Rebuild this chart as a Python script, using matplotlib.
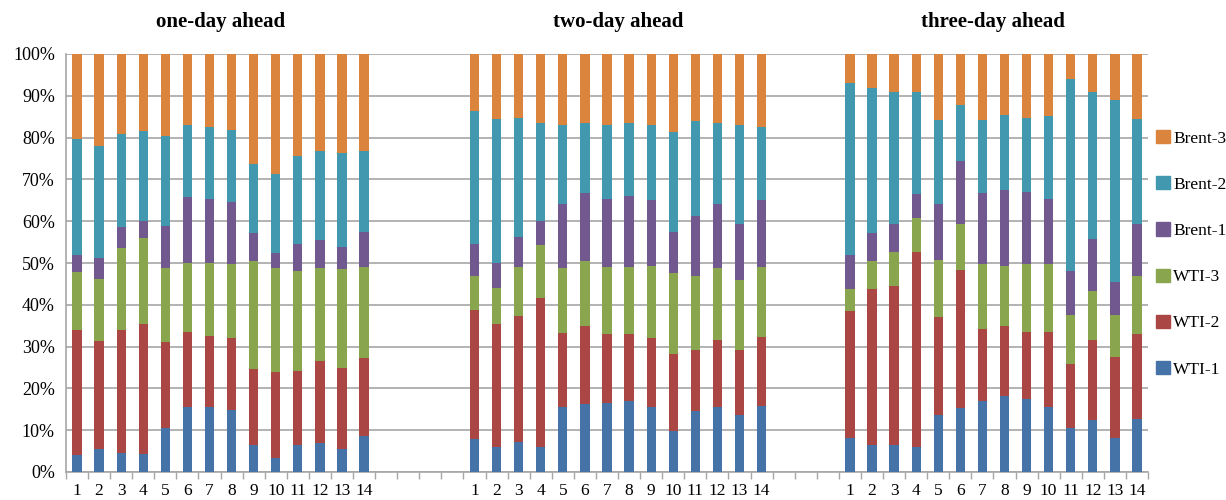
import numpy as np
import matplotlib
matplotlib.use("Agg")
import matplotlib.pyplot as plt
from matplotlib.patches import Patch

plt.rcParams['font.family'] = ['Liberation Serif', 'DejaVu Serif']

horizons = ["one-day ahead", "two-day ahead", "three-day ahead"]
models = [str(i) for i in range(1, 15)]
series_names = ["WTI-1", "WTI-2", "WTI-3", "Brent-1", "Brent-2", "Brent-3"]
colors = ["#4572A7", "#AA4643", "#89A54E", "#71588F", "#4198AF", "#DB843D"]

# shares (%) per horizon
one_wti1 = [4.0, 5.4, 4.6, 4.4, 10.5, 15.6, 15.6, 14.9, 6.5, 3.4, 6.5, 6.9, 5.6, 8.5]
one_wti2 = [29.9, 25.9, 29.3, 31.1, 20.5, 17.9, 17.0, 17.1, 18.1, 20.6, 17.7, 19.7, 19.3, 18.7]
one_wti3 = [13.9, 14.9, 19.7, 20.4, 17.7, 16.6, 17.5, 17.8, 25.9, 24.7, 24.0, 22.1, 23.6, 21.9]
one_brent1 = [4.1, 5.1, 4.9, 4.2, 10.2, 15.8, 15.3, 14.7, 6.6, 3.6, 6.4, 6.9, 5.4, 8.3]
one_brent2 = [27.8, 26.8, 22.4, 21.5, 21.4, 17.2, 17.2, 17.4, 16.7, 19.0, 21.1, 21.2, 22.5, 19.4]
one_brent3 = [20.3, 21.9, 19.1, 18.4, 19.7, 16.9, 17.4, 18.1, 26.2, 28.7, 24.3, 23.2, 23.6, 23.2]

two_wti1 = [7.8, 5.9, 7.2, 5.9, 15.6, 16.3, 16.5, 16.9, 15.6, 9.8, 14.6, 15.6, 13.7, 15.9]
two_wti2 = [31.0, 29.6, 30.2, 35.8, 17.7, 18.7, 16.5, 16.1, 16.4, 18.4, 14.5, 16.0, 15.4, 16.4]
two_wti3 = [8.0, 8.4, 11.7, 12.5, 15.4, 15.4, 16.1, 16.1, 17.4, 19.3, 17.7, 17.1, 16.8, 16.8]
two_brent1 = [7.8, 6.2, 7.1, 5.9, 15.5, 16.4, 16.3, 17.0, 15.7, 9.9, 14.5, 15.5, 13.5, 16.0]
two_brent2 = [31.8, 34.4, 28.6, 23.4, 18.7, 16.7, 17.7, 17.4, 17.8, 23.9, 22.6, 19.3, 23.5, 17.5]
two_brent3 = [13.6, 15.5, 15.2, 16.5, 17.1, 16.5, 16.9, 16.5, 17.1, 18.7, 16.1, 16.5, 17.1, 17.4]

three_wti1 = [8.2, 6.5, 6.5, 5.9, 13.7, 15.3, 16.9, 18.2, 17.5, 15.6, 10.5, 12.4, 8.2, 12.7]
three_wti2 = [30.3, 37.3, 38.1, 46.7, 23.4, 33.1, 17.4, 16.8, 16.0, 17.9, 15.4, 19.2, 19.3, 20.3]
three_wti3 = [5.2, 6.6, 8.0, 8.1, 13.6, 11.0, 15.5, 14.4, 16.3, 16.3, 11.6, 11.7, 10.0, 13.8]
three_brent1 = [8.2, 6.7, 6.8, 5.8, 13.5, 15.1, 17.0, 18.0, 17.3, 15.6, 10.7, 12.5, 8.0, 12.6]
three_brent2 = [41.2, 34.8, 31.6, 24.5, 20.0, 13.2, 17.4, 18.1, 17.7, 19.7, 45.7, 35.2, 43.6, 25.1]
three_brent3 = [6.9, 8.1, 9.0, 9.0, 15.8, 12.3, 15.8, 14.5, 15.2, 14.9, 6.1, 9.0, 10.9, 15.5]

groups = [
    [one_wti1, one_wti2, one_wti3, one_brent1, one_brent2, one_brent3],
    [two_wti1, two_wti2, two_wti3, two_brent1, two_brent2, two_brent3],
    [three_wti1, three_wti2, three_wti3, three_brent1, three_brent2, three_brent3],
]
gaps_after = [4, 3]  # empty categories between groups

fig = plt.figure(figsize=(12.26, 5.0), dpi=100)
ax = fig.add_axes([66 / 1226, 1 - 472 / 500, (1148 - 66) / 1226, (472 - 54) / 500])

positions = []
start = 0
for gi in range(3):
    positions.append(np.arange(start, start + 14))
    if gi < 2:
        start = start + 14 + gaps_after[gi]
total = positions[-1][-1] + 1

width = 0.42
for gi, (pos, data) in enumerate(zip(positions, groups)):
    bottom = np.zeros(14)
    for si, vals in enumerate(data):
        v = np.array(vals, dtype=float) / 100.0
        ax.bar(pos, v, width, bottom=bottom, color=colors[si], linewidth=0,
               zorder=3, label=series_names[si] if gi == 0 else None)
        bottom += v

ax.set_xlim(-0.5, total - 0.5)
ax.set_ylim(0, 1)
yt = np.arange(0, 1.01, 0.1)
ax.set_yticks(yt)
ax.set_yticklabels([f"{int(round(t * 100))}%" for t in yt], fontsize=13)
ax.yaxis.grid(True, color="#A6A6A6", linewidth=1.2, zorder=0)
ax.set_axisbelow(True)
ax.tick_params(axis='y', length=0, pad=8)

allpos = np.concatenate(positions)
ax.set_xticks(allpos)
ax.set_xticklabels(models * 3, fontsize=12.5)
ax.tick_params(axis='x', length=0, pad=8)
ax.set_xticks(np.arange(-0.5, total, 1.0), minor=True)
ax.tick_params(axis='x', which='minor', length=5, width=1, color="#A6A6A6")

for s in ["top", "right"]:
    ax.spines[s].set_visible(False)
for s in ["left", "bottom"]:
    ax.spines[s].set_color("#A6A6A6")
    ax.spines[s].set_linewidth(1.2)

for pos, title in zip(positions, horizons):
    ax.text(pos.mean(), 1.077, title, transform=ax.get_xaxis_transform(),
            ha='center', va='center', fontsize=15, fontweight='bold')

handles = [Patch(color=c) for c in colors][::-1]
labels = series_names[::-1]
fig.legend(handles, labels, loc='upper left', bbox_to_anchor=(1156 / 1226, 1 - 130 / 500),
           frameon=False, fontsize=12.5, handlelength=0.8, handleheight=0.8,
           handletextpad=0.2, labelspacing=1.7, borderaxespad=0, borderpad=0)

fig.savefig("out.png", dpi=100)
